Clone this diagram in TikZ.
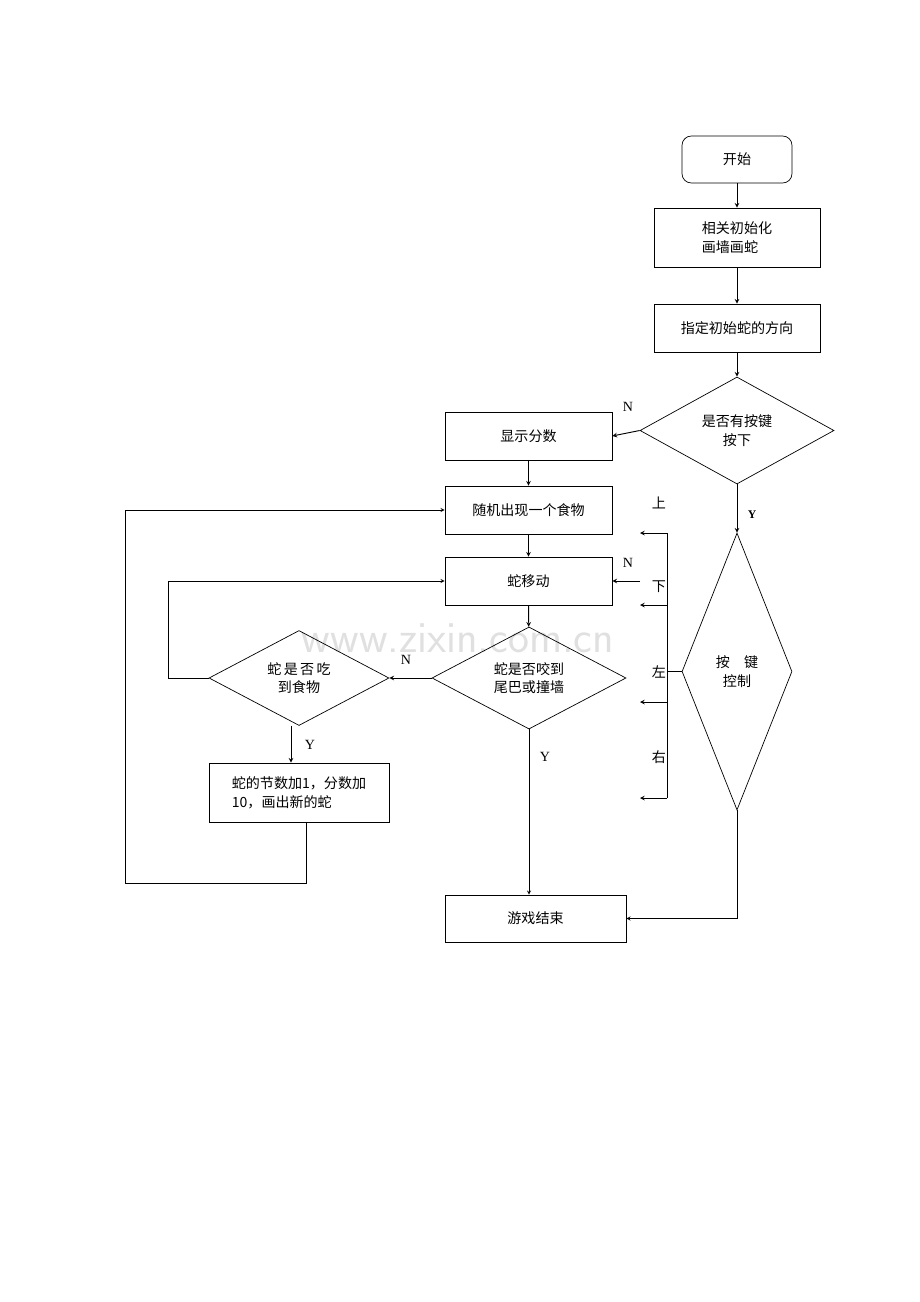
\documentclass[tikz,border=0pt]{standalone}
\usepackage{fontspec}
\setmainfont{Liberation Serif}
\newfontfamily\cjk{Noto Sans CJK SC}
\usetikzlibrary{shapes.geometric, arrows, calc, positioning}
\tikzstyle{block} = [rectangle, draw=black, font=\cjk\fontsize{12}{16}\selectfont, inner sep=2pt]
\tikzstyle{startstop} = [rectangle, rounded corners=8pt, draw=black, font=\cjk\fontsize{12}{16}\selectfont]
\tikzstyle{decision} = [diamond, draw=black, font=\cjk\fontsize{12}{16}\selectfont, align=center, inner sep=0pt]
\tikzstyle{lbl} = [font=\cjk\fontsize{12}{16}\selectfont]
\tikzstyle{yn} = [font=\fontsize{12}{14}\selectfont]
\tikzstyle{arrow} = [->,>=stealth]
\begin{document}
\begin{tikzpicture}[x=0.03cm, y=-0.03cm, semithick]
	\useasboundingbox (0,0) rectangle (920,1302);
	\node (Mark) [text=black!12, font=\sffamily\fontsize{38}{38}\selectfont] at (458,638) {www.zixin.com.cn};
	\node (Start) [startstop, minimum width=110*0.03cm, minimum height=47*0.03cm] at (737,159.5) {开始};
	\node (Init) [block, minimum width=166*0.03cm, minimum height=59*0.03cm, align=left] at (737,237.5) {相关初始化\\画墙画蛇};
	\node (Dir) [block, minimum width=166*0.03cm, minimum height=48*0.03cm] at (737,328) {指定初始蛇的方向};
	\node (KeyQ) [decision, minimum width=194*0.03cm, minimum height=107*0.03cm] at (737,430.5) {是否有按键\\按下};
	\node (Score) [block, minimum width=167*0.03cm, minimum height=48*0.03cm] at (528.5,436) {显示分数};
	\node (Food) [block, minimum width=167*0.03cm, minimum height=48*0.03cm] at (528.5,510) {随机出现一个食物};
	\node (Move) [block, minimum width=167*0.03cm, minimum height=48*0.03cm] at (528.5,581) {蛇移动};
	\node (Bite) [decision, minimum width=194*0.03cm, minimum height=98*0.03cm] at (529,678) {蛇是否咬到\\尾巴或撞墙};
	\node (Eat) [decision, minimum width=180*0.03cm, minimum height=95*0.03cm] at (299,678) {蛇\,是\,否\,吃\\到食物};
	\node (Grow) [block, minimum width=180*0.03cm, minimum height=59*0.03cm, align=left] at (299,792.5) {蛇的节数加1，分数加\\10，画出新的蛇};
	\node (End) [block, minimum width=181*0.03cm, minimum height=47*0.03cm] at (535.5,918.5) {游戏结束};
	\node (Ctrl) [decision, minimum width=110*0.03cm, minimum height=277*0.03cm] at (737,671.5) {按\quad 键\\控制};
	% direction arrows
	\coordinate (Bus1) at (667,533);
	\coordinate (Bus2) at (667,798);
	\foreach \y in {533, 605, 702, 798} {
		\draw [arrow, thick] (667,\y) -- (640,\y);
	}
	\draw (Bus1) -- (Bus2);
	\draw (Ctrl.west) -- (Ctrl.west -| Bus1);
	\node (Up) [lbl] at (659,503) {上};
	\node (Down) [lbl] at (659,587) {下};
	\node (Left) [lbl] at (659,672) {左};
	\node (Right) [lbl] at (659,757) {右};
	\coordinate (MoveIn) at (640,581);
	\draw [arrow, thick] (MoveIn) -- (Move.east);
	\node (N3) [yn] at (628,563) {N};
	% main flow
	\draw [arrow, thick] (Start) -- (Init);
	\draw [arrow, thick] (Init) -- (Dir);
	\draw [arrow, thick] (Dir) -- (KeyQ);
	\draw [arrow, thick] (KeyQ.west) -- (Score.east);
	\node (N1) [yn] at (628,407) {N};
	\draw [arrow, thick] (KeyQ.south) -- (Ctrl.north);
	\node (Y1) [yn, font=\bfseries] at (752,515) {Y};
	\draw [arrow, thick] (Score) -- (Food);
	\draw [arrow, thick] (Food) -- (Move);
	\draw [arrow, thick] (Move) -- (Bite);
	\draw [arrow, thick] (Bite.west) -- (Eat.east);
	\node (N2) [yn] at (406,660) {N};
	\draw [arrow] (Eat.west) -- (168,678) |- (Move.west);
	\draw [arrow, thick] (Eat.south -| 291,0) -- (Grow.north -| 291,0);
	\node (Y2) [yn] at (310,745) {Y};
	\draw [arrow] (Grow.south -| 306,0) -- (306,883) -- (125,883) |- (Food.west);
	\draw [arrow] (Bite.south) -- (End.north -| Bite.south);
	\node (Y3) [yn] at (545,757) {Y};
	\draw [arrow] (Ctrl.south) |- (End.east);
\end{tikzpicture}
\end{document}
